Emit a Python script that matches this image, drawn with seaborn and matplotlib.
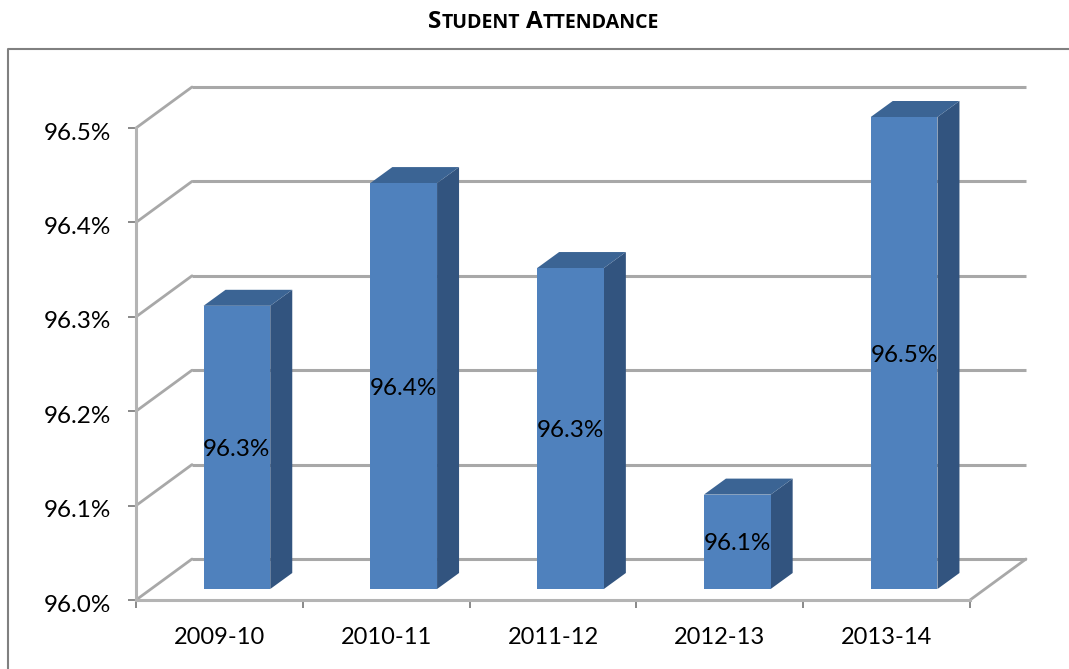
"""
Student attendance chart, column chart with a faked 3D look.
Saves out.png at 1069x669.
"""
import matplotlib.pyplot as plt
import pandas as pd
import seaborn as sns
from matplotlib.lines import Line2D
from matplotlib.patches import Polygon
from matplotlib.transforms import Affine2D, IdentityTransform

years = ['2009-10', '2010-11', '2011-12', '2012-13', '2013-14']
attendance = [96.30, 96.43, 96.34, 96.10, 96.50]
bar_labels = ['96.3%', '96.4%', '96.3%', '96.1%', '96.5%']
axis_base = 96.0
axis_ticks = [96.0, 96.1, 96.2, 96.3, 96.4, 96.5]
axis_labels = ['96.0%', '96.1%', '96.2%', '96.3%', '96.4%', '96.5%']
title_parts = [('S', 17.5), ('TUDENT', 14), ('A', 17.5), ('TTENDANCE', 14)]

FRONT = '#4F81BD'
SIDE = '#32547F'
TOP = '#3B6494'
GRID = '#A8A8A8'
TICK = '#808080'

# depth of the fake 3D box, in pixels
WALL_DX, WALL_DY = 56, 41
BAR_DX, BAR_DY = 17.5, 11
DEPTH_DX, DEPTH_DY = 22, 16

W, H = 1069, 669

sns.set_style('white')
plt.rcParams['font.family'] = ['Lato', 'DejaVu Sans']

fig = plt.figure(figsize=(W / 100, H / 100), dpi=100)
ax = fig.add_axes([136 / W, 1 - 600 / H, (970 - 136) / W, (600 - 128) / H])

df = pd.DataFrame({'year': years, 'height': [a - axis_base for a in attendance]})
sns.barplot(data=df, x='year', y='height', color=FRONT, saturation=1, width=0.4, ax=ax,
            zorder=4, linewidth=0)

ax.set_xlim(-0.5, 4.5)
ax.set_ylim(0, 0.5)
ax.set_xlabel('')
ax.set_ylabel('')
ax.set_yticks([t - axis_base for t in axis_ticks])
ax.set_yticklabels(axis_labels)
ax.set_xticks([i - 0.5 for i in range(len(years) + 1)], minor=False)
ax.set_xticklabels([])
ax.tick_params(axis='both', bottom=True, left=True, length=6, width=1.3, color=TICK,
               labelsize=17.5, labelcolor='black')
ax.tick_params(axis='y', pad=12)
for lab in ax.get_yticklabels():
    lab.set_transform(lab.get_transform() + Affine2D().translate(0, -3))

sns.despine(ax=ax, top=True, right=True)
for side in ['left', 'bottom']:
    ax.spines[side].set_color('#B4B4B4')
    ax.spines[side].set_linewidth(2.2)

wall = ax.transData + Affine2D().translate(WALL_DX, WALL_DY)
bar_shift = ax.transData + Affine2D().translate(BAR_DX, BAR_DY)
label_shift = bar_shift + Affine2D().translate(0, -2)


def pixel_line(xs, ys):
    ax.add_line(Line2D(xs, ys, transform=IdentityTransform(), color=GRID, lw=2.0, zorder=1,
                       clip_on=False))


# back wall gridlines and the slanted parts on the left wall
for t in axis_ticks:
    y = t - axis_base
    ax.plot([-0.5, 4.5], [y, y], transform=wall, color=GRID, lw=2.2, clip_on=False, zorder=1,
            solid_capstyle='butt')
    x0, y0 = ax.transData.transform((-0.5, y))
    pixel_line([x0, x0 + WALL_DX], [y0, y0 + WALL_DY])

# floor edge on the right
x0, y0 = ax.transData.transform((4.5, 0))
pixel_line([x0, x0 + WALL_DX], [y0, y0 + WALL_DY])

# front faces move onto the floor, sides and tops are built from them
for bar, label in zip(ax.patches, bar_labels):
    bar.set_transform(bar_shift)
    bar.set_clip_on(False)
    x_left = bar.get_x()
    x_right = x_left + bar.get_width()
    height = bar.get_height()
    (lx, by), (rx, ty) = bar_shift.transform([(x_left, 0), (x_right, height)])
    ax.add_patch(Polygon([(rx, by), (rx + DEPTH_DX, by + DEPTH_DY),
                          (rx + DEPTH_DX, ty + DEPTH_DY), (rx, ty)],
                         closed=True, transform=IdentityTransform(), facecolor=SIDE,
                         edgecolor='none', zorder=3, clip_on=False))
    ax.add_patch(Polygon([(lx, ty), (rx, ty), (rx + DEPTH_DX, ty + DEPTH_DY),
                          (lx + DEPTH_DX, ty + DEPTH_DY)],
                         closed=True, transform=IdentityTransform(), facecolor=TOP,
                         edgecolor='none', zorder=3, clip_on=False))
    ax.text(x_left + bar.get_width() / 2, height / 2, label, transform=label_shift, ha='center',
            va='center', fontsize=17.5, color='black', zorder=6)

# category labels sit in the middle of each tick interval
for i, year in enumerate(years):
    ax.annotate(year, xy=(i, 0), xycoords='data', xytext=(0, -37), textcoords='offset pixels',
                ha='center', va='center', fontsize=17, color='black', annotation_clip=False)

# outer frame, open to the right and bottom of the picture
fig.add_artist(Line2D([8 / W, 8 / W, 1], [0, 1 - 49 / H, 1 - 49 / H], color='#808080', lw=1.5))

# small-caps title, one piece after the other
renderer = fig.canvas.get_renderer()
x = 428
for i, (part, size) in enumerate(title_parts):
    p = fig.text(x / W, 1 - 28 / H, part, fontsize=size, fontweight='bold', color='black',
                 family=['Open Sans', 'DejaVu Sans'], va='baseline')
    x += p.get_window_extent(renderer).width
    if i == 1:
        x += 6

fig.savefig('out.png', dpi=100)
plt.close(fig)
